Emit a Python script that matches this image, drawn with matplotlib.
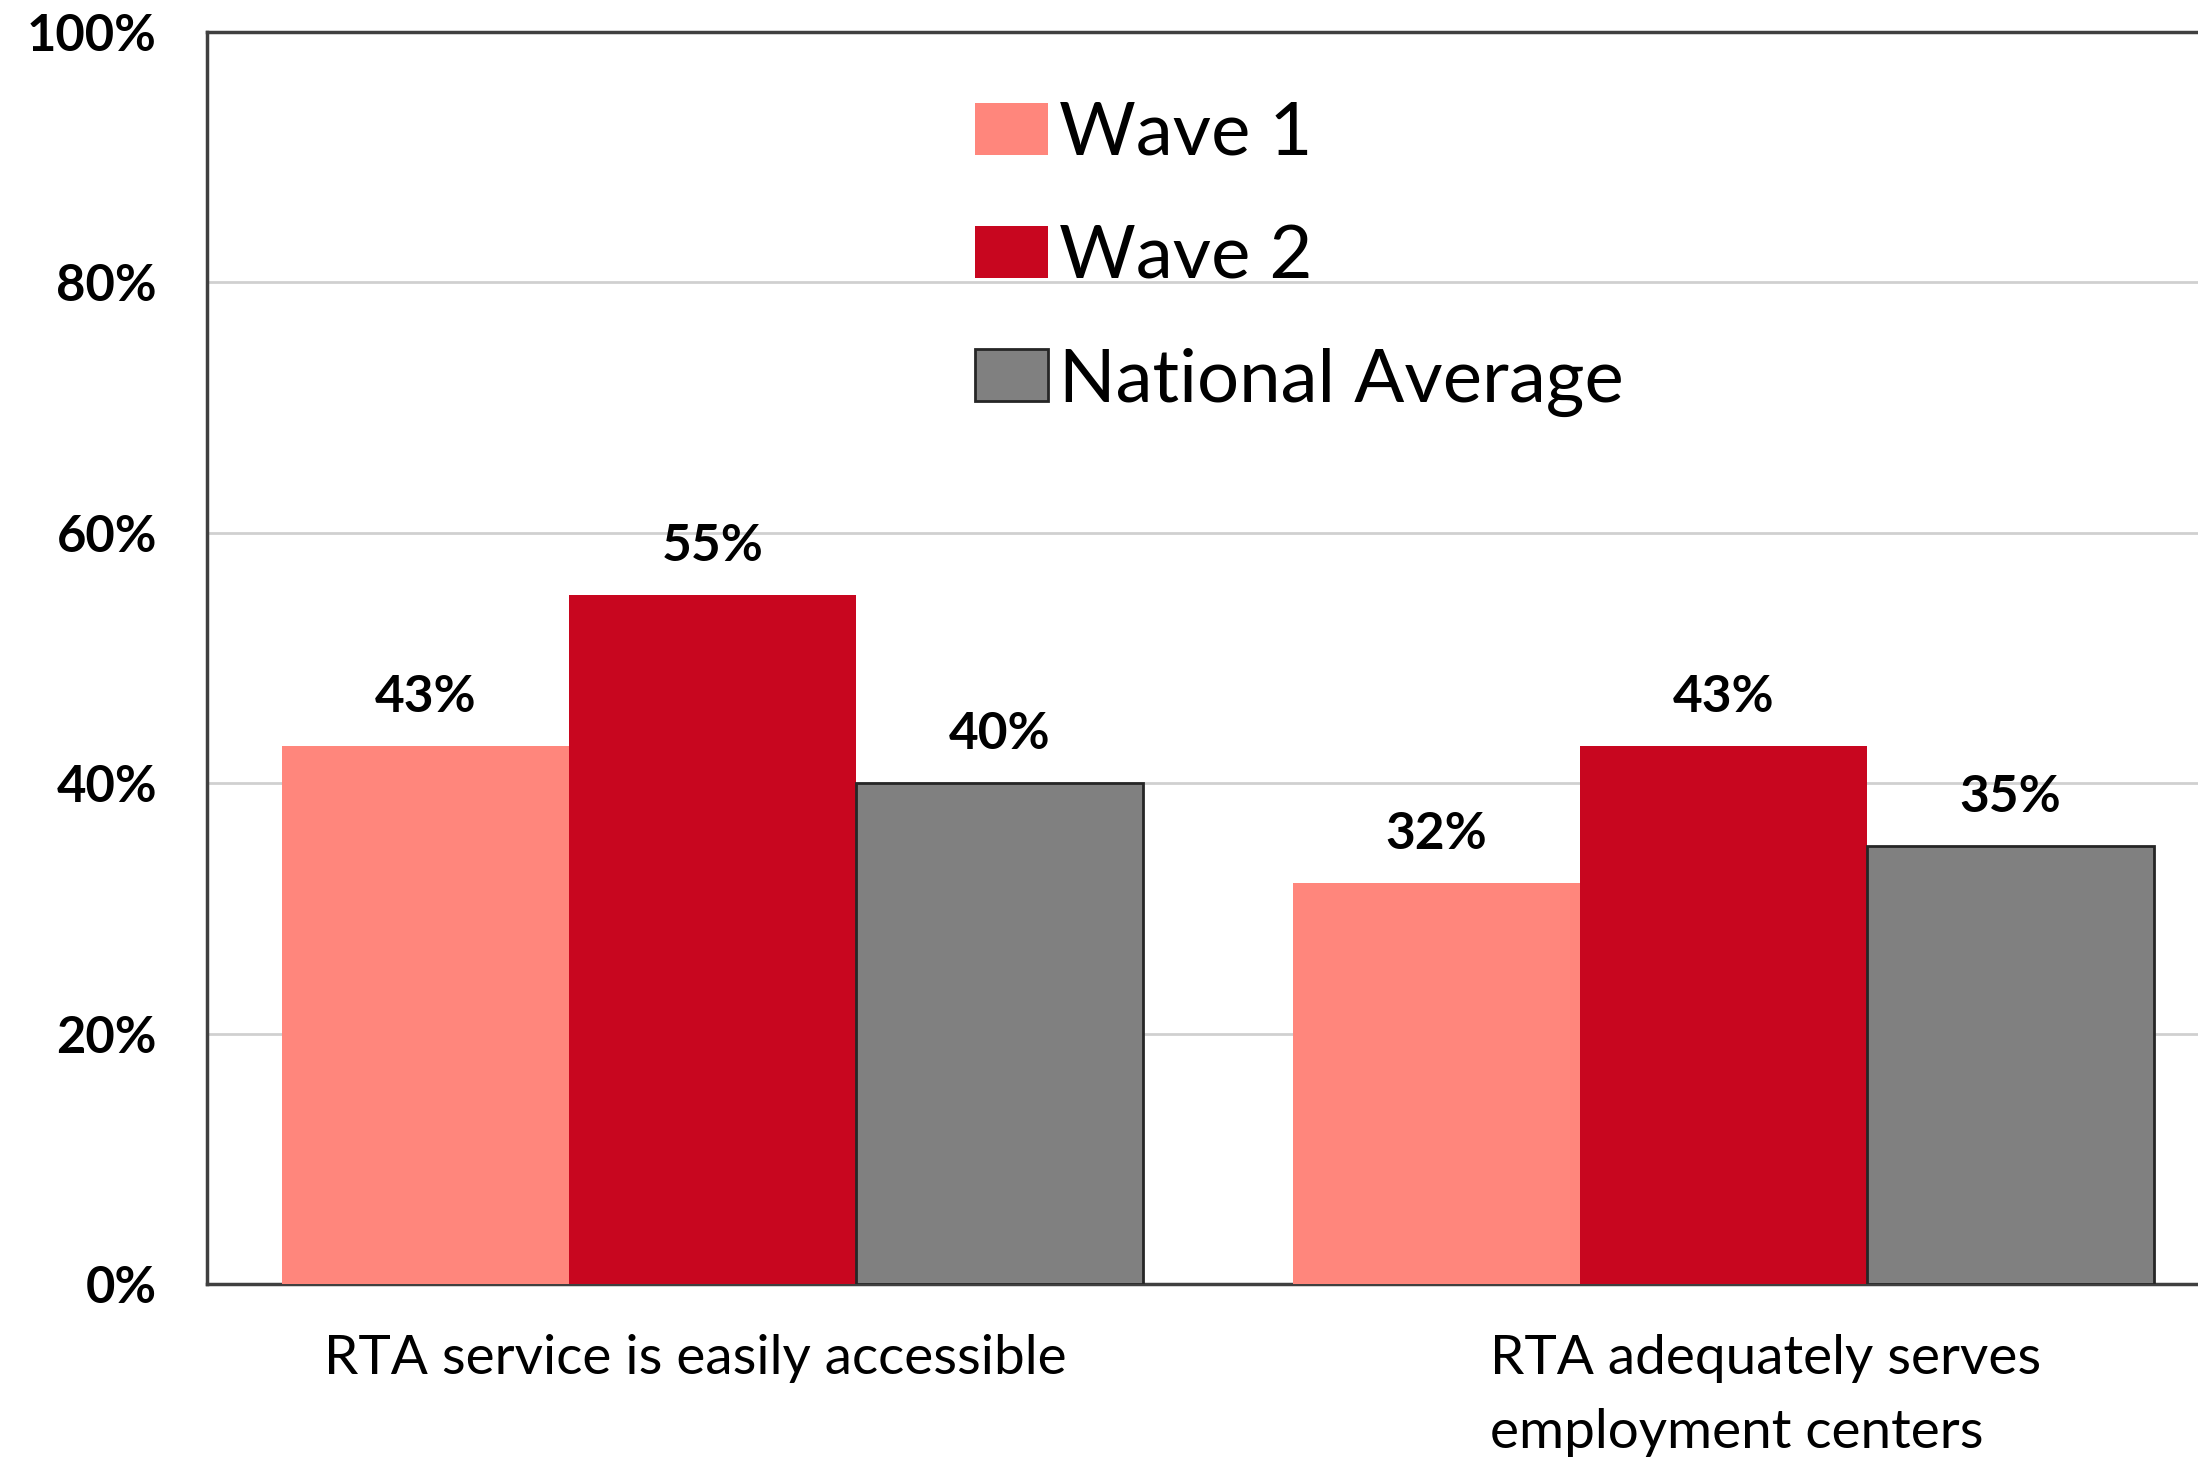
import matplotlib
matplotlib.use('Agg')
import matplotlib.pyplot as plt
import matplotlib.transforms as mtransforms
import numpy as np

# data
categories = ['RTA service is easily accessible', 'RTA adequately serves\nemployment centers']
series_names = ['Wave 1', 'Wave 2', 'National Average']
wave1 = [43, 32]
wave2 = [55, 43]
national = [40, 35]
yticks = [0, 20, 40, 60, 80, 100]

plt.rcParams['font.family'] = ['Lato', 'DejaVu Sans']

fig = plt.figure(figsize=(21.98, 14.61), dpi=100)
ax = fig.add_axes([207 / 2198, 1 - 1284 / 1461, (2229 - 207) / 2198, (1284 - 32) / 1461])

x = np.arange(len(categories))
width = 0.284
colors = ['#FF867C', '#C8061F', '#808080']
edges = ['none', 'none', '#262626']

for i, (vals, name) in enumerate(zip([wave1, wave2, national], series_names)):
    bars = ax.bar(x + (i - 1) * width, vals, width, color=colors[i], edgecolor=edges[i],
                  linewidth=2, label=name, zorder=3)
    for b, v in zip(bars, vals):
        ax.annotate(f'{v}%', (b.get_x() + b.get_width() / 2, v), xytext=(0, 18),
                    textcoords='offset points', ha='center', va='bottom',
                    fontsize=37, fontweight='bold')

ax.set_xlim(-0.5, 1.5)
ax.set_ylim(0, 100)
ax.set_yticks(yticks)
ax.set_yticklabels([f'{t}%' for t in yticks], fontsize=36.5, fontweight='bold')
ax.set_xticks(x)
ax.set_xticklabels(categories, fontsize=39.5, multialignment='left', linespacing=1.62)
ax.tick_params(axis='y', length=0, pad=36)
ax.tick_params(axis='x', length=0, pad=36)

# excel places the wrapped labels a bit off-centre
shifts = [-17, 42]
for lab, dx in zip(ax.get_xticklabels(), shifts):
    lab.set_transform(lab.get_transform() + mtransforms.ScaledTranslation(dx / 100, 0, fig.dpi_scale_trans))

ax.grid(axis='y', color='#D0D0D0', linewidth=2, zorder=0)
for s in ax.spines.values():
    s.set_color('#404040')
    s.set_linewidth(2.5)

ax.legend(loc='upper left', bbox_to_anchor=(0.365, 0.969), frameon=False, fontsize=53.5,
          handlelength=0.98, handleheight=0.70, handletextpad=0.16, labelspacing=0.76,
          borderaxespad=0)

fig.savefig('out.png', dpi=100)
